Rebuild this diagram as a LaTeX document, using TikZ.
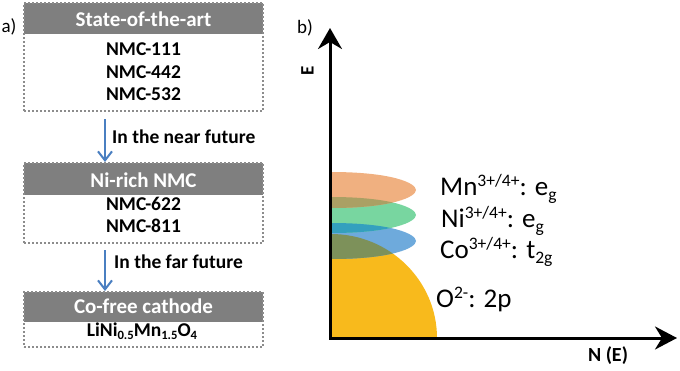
\documentclass[tikz,border=0pt]{standalone}
\usepackage{fontspec}
\usepackage{graphicx}
\setmainfont{Carlito}
\usetikzlibrary{arrows.meta}
\definecolor{hdrgray}{HTML}{7F7F7F}
\definecolor{bordergray}{HTML}{8C8C8C}
\definecolor{arrblue}{HTML}{4A7FC1}
\definecolor{mncol}{HTML}{F0B080}
\definecolor{nicol}{HTML}{78D6A0}
\definecolor{cocol}{HTML}{6EAADC}
\definecolor{ocol}{HTML}{F8BA1C}
\definecolor{mnni}{HTML}{AAA064}
\definecolor{nico}{HTML}{34A0BE}
\definecolor{coo}{HTML}{7D915A}
\newcommand\mysup[1]{\raisebox{0.3em}{\scalebox{0.65}{#1}}}
\newcommand\mysub[1]{\raisebox{-0.2em}{\scalebox{0.65}{#1}}}
\newcommand\leafpath[1]{(331,{#1-18}) .. controls (392,{#1-18}) and (416,{#1-7}) .. (416,#1) .. controls (416,{#1+7}) and (392,{#1+18}) .. (331,{#1+18}) -- cycle}
\newcommand\opath{(331,338) -- (331,234) .. controls (389.5,234) and (437,280.6) .. (437,338) -- cycle}
\begin{document}
\begin{tikzpicture}[x=1pt,y=-1pt,
  box/.style={draw=bordergray, line width=2pt, dotted, minimum width=239pt, inner sep=0pt},
  hdr/.style={fill=hdrgray, minimum width=239pt, inner sep=0pt},
  htxt/.style={text=white, font=\fontsize{21}{24}\selectfont\bfseries, anchor=base, inner sep=0pt},
  ntxt/.style={font=\fontsize{19.5}{23}\selectfont\bfseries, anchor=base, inner sep=0pt},
  arr/.style={draw=arrblue, line width=2pt, -{Straight Barb[length=9pt,width=14pt]}},
  lab/.style={font=\fontsize{27}{32}\selectfont, anchor=base west, inner sep=0pt},
  axis/.style={line width=3pt, line join=miter, {Stealth[length=21pt,width=24pt,inset=7pt]}-{Stealth[length=22pt,width=23pt,inset=7pt]}}
]
\useasboundingbox (0,0) rectangle (680,370);

% ---- panel a ----
\node[font=\fontsize{19}{22}\selectfont] (alab) at (9,27) {a)};

\node[hdr, minimum height=31pt] (h1) at (143.5,18.5) {};
\node[hdr, minimum height=32pt] (h2) at (143.5,179) {};
\node[hdr, minimum height=30pt] (h3) at (143.5,307) {};

\node[box, minimum height=108pt] (b1) at (143.5,57) {};
\node[box, minimum height=80pt] (b2) at (143.5,203) {};
\node[box, minimum height=55pt] (b3) at (143.5,319.5) {};

\node[htxt] (t1) at (143.5,26) {State-of-the-art};
\node[ntxt] (n111) at (143.5,55) {NMC-111};
\node[ntxt] (n442) at (143.5,78) {NMC-442};
\node[ntxt] (n532) at (143.5,100) {NMC-532};

\node[htxt] (t2) at (143.5,187) {Ni-rich NMC};
\node[ntxt] (n622) at (143.5,210) {NMC-622};
\node[ntxt] (n811) at (143.5,232) {NMC-811};

\node[htxt] (t3) at (143.5,313) {Co-free cathode};
\node[ntxt] (lnmo) at (142,336) {LiNi\mysub{0.5}Mn\mysub{1.5}O\mysub{4}};

\coordinate (a1s) at (105,119);
\coordinate (a2s) at (105,250);
\draw[arr] (a1s) -- (a1s |- b2.north);
\draw[arr] (a2s) -- (a2s |- b3.north);
\node[ntxt, anchor=base west] (l1) at (112,143) {In the near future};
\node[ntxt, anchor=base west] (l2) at (114,268) {In the far future};

% ---- panel b ----
\node[font=\fontsize{19}{22}\selectfont] (blab) at (305,28) {b)};

\fill[ocol] \opath;
\fill[cocol] \leafpath{241};
\fill[nicol] \leafpath{215};
\fill[mncol] \leafpath{190};
\begin{scope}
  \clip \leafpath{241};
  \fill[coo] \opath;
\end{scope}
\begin{scope}
  \clip \leafpath{215};
  \fill[nico] \leafpath{241};
\end{scope}
\begin{scope}
  \clip \leafpath{190};
  \fill[mnni] \leafpath{215};
\end{scope}

\coordinate (ytip) at (330,28);
\coordinate (orig) at (330,338);
\coordinate (xtip) at (677,338);
\draw[axis] (ytip) -- (orig) -- (xtip);

\node[font=\fontsize{19}{22}\selectfont\bfseries, rotate=90] (elab) at (307.5,71) {E};
\node[font=\fontsize{20}{24}\selectfont\bfseries] (nlab) at (608,356) {N (E)};

\node[lab] (lmn) at (440,195) {Mn\mysup{3+/4+}: e\mysub{g}};
\node[lab] (lni) at (441,227) {Ni\mysup{3+/4+}: e\mysub{g}};
\node[lab] (lco) at (440,258) {Co\mysup{3+/4+}: t\mysub{2g}};
\node[lab] (lo) at (436,307) {O\mysup{2-}: 2p};
\end{tikzpicture}
\end{document}
